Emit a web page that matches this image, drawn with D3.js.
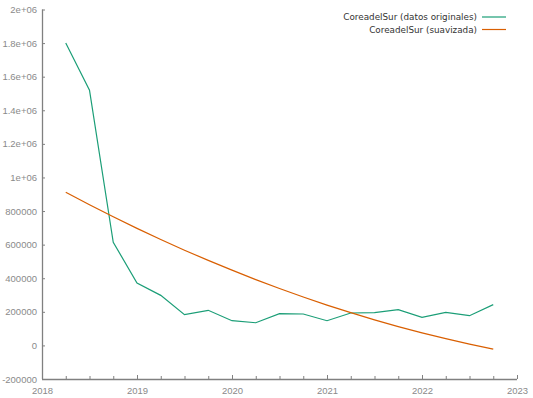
<!DOCTYPE html>
<html>
<head>
<meta charset="utf-8">
<script src="https://cdn.jsdelivr.net/npm/d3@7/dist/d3.min.js"></script>
<style>
  html, body { margin: 0; padding: 0; background: #fff; }
  svg { display: block; font-family: "DejaVu Sans", sans-serif; }
</style>
</head>
<body>
<svg id="chart" width="533" height="398"></svg>
<script>
// Quarterly observations (decimal year)
const quarters = [2018.25, 2018.5, 2018.75, 2019.0, 2019.25, 2019.5, 2019.75,
  2020.0, 2020.25, 2020.5, 2020.75, 2021.0, 2021.25, 2021.5, 2021.75,
  2022.0, 2022.25, 2022.5, 2022.75];
const original = [1800000, 1520000, 614000, 372000, 298000, 183000, 209000,
  147000, 135000, 189000, 187000, 147000, 193000, 195000, 213000,
  167000, 197000, 177000, 243000];
const smoothed = [912000, 838000, 766000, 697000, 631000, 567000, 506000,
  448000, 392000, 339000, 288000, 240000, 195000, 152000, 112000,
  75000, 40000, 8000, -22000];
const yTicks = [-200000, 0, 200000, 400000, 600000, 800000, 1000000,
  1200000, 1400000, 1600000, 1800000, 2000000];
const yTickLabels = ["-200000", "0", "200000", "400000", "600000", "800000",
  "1e+06", "1.2e+06", "1.4e+06", "1.6e+06", "1.8e+06", "2e+06"];
const xTicks = [2018, 2019, 2020, 2021, 2022, 2023];
const seriesNames = ["CoreadelSur (datos originales)", "CoreadelSur (suavizada)"];
const seriesColors = ["#1b9e77", "#d95f02"];

const svg = d3.select("#chart");
const margin = { left: 42, right: 16, top: 9.5, bottom: 19 };
const W = 533, H = 398;

const x = d3.scaleLinear().domain([2018, 2023]).range([margin.left, W - margin.right]);
const y = d3.scaleLinear().domain([-200000, 2000000]).range([H - margin.bottom, margin.top]);

const axisColor = "#808080";
const labelColor = "#8a8a8a";

// Y axis with inward ticks
const yAxis = svg.append("g")
  .attr("transform", `translate(${margin.left},0)`)
  .call(d3.axisRight(y).tickValues(yTicks).tickSize(3)
    .tickFormat((d, i) => yTickLabels[i]));
yAxis.select(".domain").attr("stroke", axisColor).attr("stroke-width", 1.3)
  .attr("d", `M0.5,${y(2000000)}V${y(-200000)}`);
yAxis.selectAll(".tick line").attr("stroke", axisColor);
yAxis.selectAll(".tick text")
  .attr("x", -5).attr("text-anchor", "end")
  .attr("fill", labelColor).style("font-size", "9.5px");

// X axis: year ticks plus quarter minor ticks, pointing up
const minor = d3.range(2018.25, 2023, 0.25).filter(v => Math.abs(v - Math.round(v)) > 1e-6);
const xMinor = svg.append("g")
  .attr("transform", `translate(0,${H - margin.bottom})`)
  .call(d3.axisTop(x).tickValues(minor).tickSize(3).tickFormat(""));
xMinor.select(".domain").remove();
xMinor.selectAll(".tick line").attr("stroke", axisColor);

const xAxis = svg.append("g")
  .attr("transform", `translate(0,${H - margin.bottom})`)
  .call(d3.axisTop(x).tickValues(xTicks).tickSize(4).tickFormat(d3.format("d")));
xAxis.select(".domain").attr("stroke", axisColor).attr("stroke-width", 1.3)
  .attr("d", `M${x(2018)},0.5H${x(2023)}`);
xAxis.selectAll(".tick line").attr("stroke", axisColor);
xAxis.selectAll(".tick text")
  .attr("y", 8).attr("dy", "0.71em")
  .attr("fill", labelColor).style("font-size", "9.5px");

// Series lines
const line = d3.line().x((d, i) => x(quarters[i])).y(d => y(d));
[original, smoothed].forEach((vals, k) => {
  svg.append("path")
    .datum(vals)
    .attr("fill", "none")
    .attr("stroke", seriesColors[k])
    .attr("stroke-width", 1.2)
    .attr("d", line);
});

// Legend, top right
const legend = svg.append("g");
seriesNames.forEach((name, k) => {
  const ly = 17 + k * 12.5;
  legend.append("text")
    .attr("x", 477).attr("y", ly).attr("dy", "0.35em")
    .attr("text-anchor", "end")
    .attr("fill", "#333")
    .style("font-size", "8.8px")
    .text(name);
  legend.append("line")
    .attr("x1", 482).attr("x2", 506)
    .attr("y1", ly).attr("y2", ly)
    .attr("stroke", seriesColors[k]).attr("stroke-width", 1.2);
});
</script>
</body>
</html>
